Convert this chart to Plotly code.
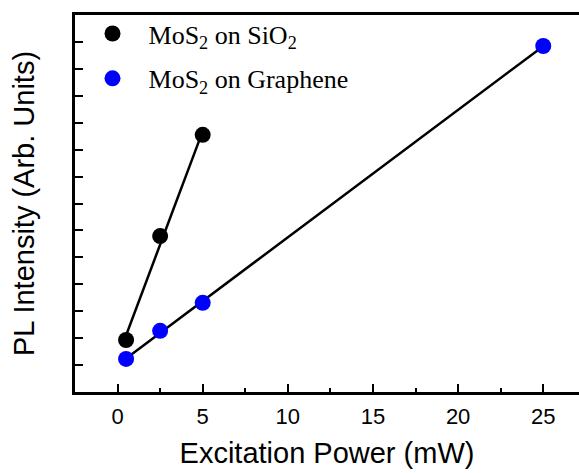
import numpy as np
import plotly.graph_objects as go

# Data
power_sio2 = [0.5, 2.5, 5.0]
pl_sio2 = [1.93, 5.79, 9.55]
power_gr = [0.5, 2.5, 5.0, 25.0]
pl_gr = [1.23, 2.27, 3.31, 12.85]

x_ticks = [0, 5, 10, 15, 20, 25]
x_ticklabels = ["0", "5", "10", "15", "20", "25"]
y_ticks = list(range(1, 14))

name_sio2 = "MoS<sub>2</sub> on SiO<sub>2</sub>"
name_gr = "MoS<sub>2</sub> on Graphene"

def fit_line(x, y):
    k, b = np.polyfit(x, y, 1)
    xs = np.array([min(x), max(x)])
    return xs, k * xs + b

fig = go.Figure()

fx, fy = fit_line(power_sio2, pl_sio2)
fig.add_trace(go.Scatter(x=fx, y=fy, mode="lines", line=dict(color="black", width=2.5),
                         showlegend=False, hoverinfo="skip"))
gx, gy = fit_line(power_gr, pl_gr)
fig.add_trace(go.Scatter(x=gx, y=gy, mode="lines", line=dict(color="black", width=2.5),
                         showlegend=False, hoverinfo="skip"))

fig.add_trace(go.Scatter(x=power_sio2, y=pl_sio2, mode="markers", name=name_sio2,
                         marker=dict(color="black", size=16), legendgroup="a"))
fig.add_trace(go.Scatter(x=power_gr, y=pl_gr, mode="markers", name=name_gr,
                         marker=dict(color="#0000ff", size=16), legendgroup="b"))

fig.update_layout(
    width=579, height=473,
    margin=dict(l=75, r=0, t=15, b=81, autoexpand=False),
    paper_bgcolor="white", plot_bgcolor="white",
    font=dict(family="Liberation Sans, Arial", color="black"),
    legend=dict(x=0.003, y=1.013, xanchor="left", yanchor="top",
                bgcolor="rgba(0,0,0,0)", itemwidth=62, tracegroupgap=8,
                font=dict(family="Liberation Serif, Times New Roman", size=26, color="black")),
    xaxis=dict(
        range=[-2.5, 27.1], tickvals=x_ticks, ticktext=x_ticklabels,
        ticks="inside", ticklen=8, tickwidth=2, tickcolor="black",
        minor=dict(dtick=2.5, tick0=0, ticks="inside", ticklen=4, tickwidth=2, tickcolor="black"),
        showline=True, linecolor="black", linewidth=2.5, mirror=True,
        showgrid=False, zeroline=False, ticklabelstandoff=3,
        tickfont=dict(size=22, family="Liberation Sans, Arial"),
        title=dict(text="Excitation Power (mW)", font=dict(size=29), standoff=15),
    ),
    yaxis=dict(
        range=[0, 14], tickvals=y_ticks, showticklabels=False,
        ticks="inside", ticklen=8, tickwidth=2, tickcolor="black",
        showline=True, linecolor="black", linewidth=2.5,
        showgrid=False, zeroline=False,
        title=dict(text="PL Intensity (Arb. Units)", font=dict(size=29), standoff=30),
    ),
)

fig.write_html("out.html", config={"displayModeBar": False},
               post_script="document.body.style.margin='0';document.body.style.overflow='hidden';")
